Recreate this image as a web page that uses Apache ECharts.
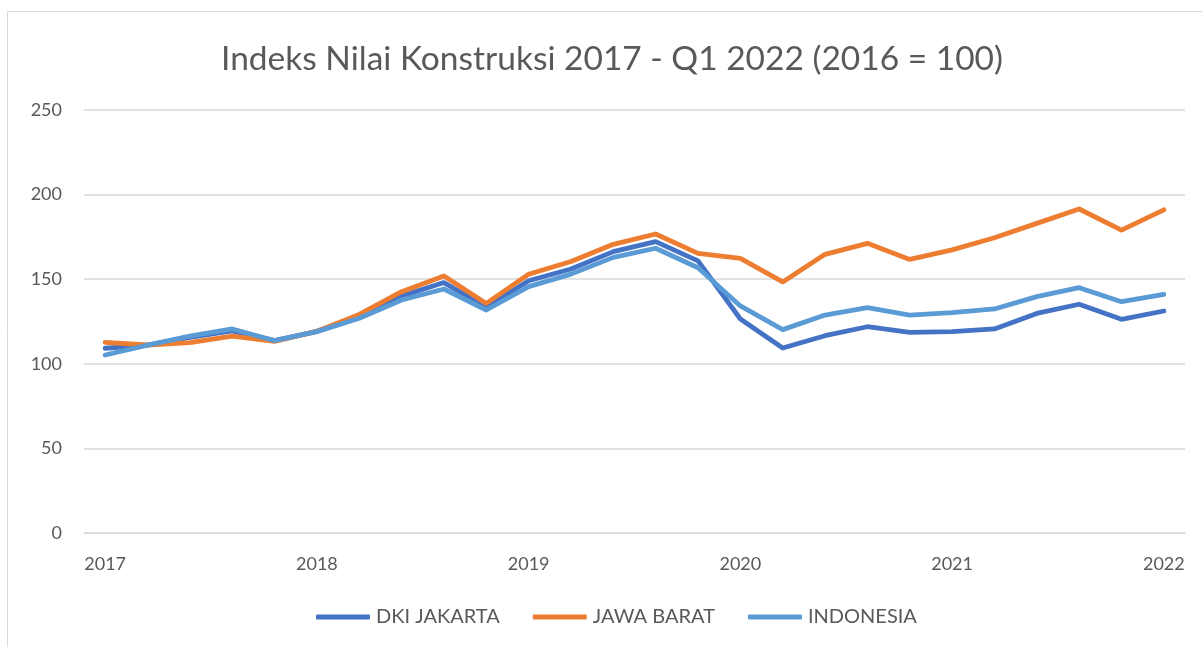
<!DOCTYPE html>
<html>
<head>
<meta charset="utf-8">
<title>Indeks Nilai Konstruksi</title>
<script src="https://cdn.jsdelivr.net/npm/echarts@6/dist/echarts.min.js"></script>
<style>
  html, body { margin: 0; padding: 0; background: #fff; }
  #chart { width: 1202px; height: 647px; }
</style>
</head>
<body>
<div id="chart"></div>
<script>
// kategori sumbu x (label tahun tiap 5 titik)
const categories = [
  '2017', '', '', '', '',
  '2018', '', '', '', '',
  '2019', '', '', '', '',
  '2020', '', '', '', '',
  '2021', '', '', '', '',
  '2022'
]

const dkiJakarta = [
  109.2, 111.0, 115.6, 119.4, 113.7,
  119.2, 127.8, 140.0, 148.0, 133.4,
  149.1, 156.0, 166.3, 172.2, 160.8,
  126.5, 109.3, 116.6, 121.9, 118.6,
  119.0, 120.6, 129.8, 135.2, 126.3,
  131.2
]

const jawaBarat = [
  112.7, 111.1, 112.5, 116.4, 113.3,
  119.2, 129.2, 142.6, 151.9, 135.7,
  152.9, 160.5, 170.6, 176.7, 165.3,
  162.3, 148.4, 164.7, 171.2, 161.7,
  167.3, 174.5, 183.0, 191.5, 179.0,
  191.0
]

const indonesia = [
  105.2, 111.0, 116.4, 120.6, 113.7,
  119.0, 126.9, 137.7, 144.2, 131.8,
  145.6, 153.0, 162.9, 168.3, 156.8,
  134.2, 120.2, 128.8, 133.2, 128.8,
  130.2, 132.4, 139.7, 145.0, 136.7,
  141.0
]

const seriesNames = ['DKI JAKARTA', 'JAWA BARAT', 'INDONESIA']
const colors = ['#4472C4', '#ED7D31', '#5B9BD5']

const font = 'Lato, "Open Sans", sans-serif'
const textColor = '#595959'
const gridColor = '#d9d9d9'

function lineSeries(name, data, color) {
  return {
    name: name,
    type: 'line',
    data: data,
    showSymbol: false,
    symbol: 'none',
    smooth: false,
    color: color,
    lineStyle: {
      color: color,
      width: 4.8,
      cap: 'round',
      join: 'round'
    },
    emphasis: { disabled: true },
    animation: false
  }
}

const chart = echarts.init(document.getElementById('chart'))

chart.setOption({
  backgroundColor: '#fff',
  animation: false,
  title: {
    text: 'Indeks Nilai Konstruksi 2017 - Q1 2022 (2016 = 100)',
    left: 216,
    top: 37,
    textStyle: {
      fontFamily: font,
      fontWeight: 'normal',
      fontSize: 33.5,
      color: textColor
    }
  },
  graphic: [{
    type: 'rect',
    shape: { x: 7.5, y: 11.5, width: 1300, height: 700 },
    style: { fill: 'none', stroke: gridColor, lineWidth: 1 },
    silent: true,
    z: -1
  }],
  legend: {
    data: seriesNames,
    bottom: 15,
    left: 311,
    icon: 'roundRect',
    itemWidth: 54,
    itemHeight: 5,
    itemGap: 33,
    textStyle: {
      fontFamily: font,
      fontSize: 20,
      color: textColor,
      padding: [0, 0, 0, 1]
    }
  },
  grid: {
    left: 84,
    right: 17,
    top: 110,
    bottom: 114,
    containLabel: false
  },
  xAxis: {
    type: 'category',
    data: categories,
    boundaryGap: true,
    axisLine: {
      show: true,
      lineStyle: { color: gridColor, width: 1.5 }
    },
    axisTick: { show: false },
    axisLabel: {
      interval: 0,
      margin: 22,
      fontFamily: font,
      fontSize: 18,
      color: textColor
    },
    splitLine: { show: false }
  },
  yAxis: {
    type: 'value',
    min: 0,
    max: 250,
    interval: 50,
    axisLine: { show: false },
    axisTick: { show: false },
    axisLabel: {
      margin: 22,
      fontFamily: font,
      fontSize: 18,
      color: textColor
    },
    splitLine: {
      show: true,
      lineStyle: { color: gridColor, width: 1.5 }
    }
  },
  series: [
    lineSeries(seriesNames[0], dkiJakarta, colors[0]),
    lineSeries(seriesNames[1], jawaBarat, colors[1]),
    lineSeries(seriesNames[2], indonesia, colors[2])
  ]
})
</script>
</body>
</html>
